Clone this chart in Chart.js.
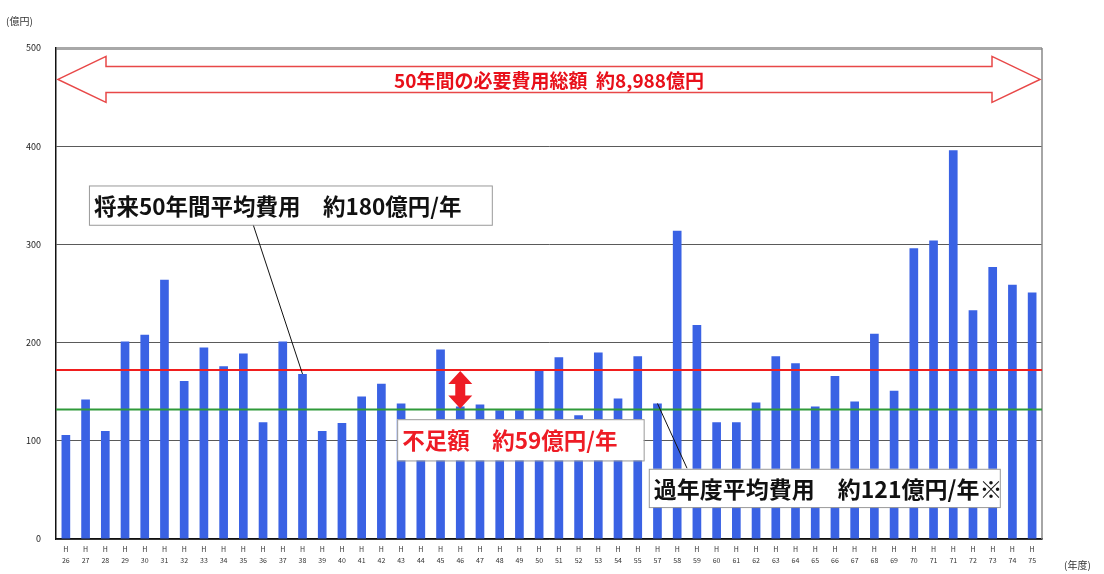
<!DOCTYPE html>
<html>
<head>
<meta charset="utf-8">
<script src="https://cdn.jsdelivr.net/npm/chart.js@4.4.0/dist/chart.umd.min.js"></script>
<style>
  html, body { margin: 0; padding: 0; background: #fff; }
</style>
</head>
<body>
<canvas id="chart" width="1104" height="574"></canvas>
<script>
// years (H = Heisei), as printed under the bars
const years = ['26','27','28','29','30','31','32','33','34','35','36','37','38','39','40','41','42','43','44','45',
  '46','47','48','49','50','51','52','53','54','55','57','58','59','60','61','62','63','64','65','66',
  '67','68','69','70','71','71','72','73','74','75'];
// required cost per year (億円)
const costs = [106,142,110,201,208,264,161,195,176,189,119,201,168,110,118,145,158,138,120,193,
  135,137,131,131,172,185,126,190,143,186,138,314,218,119,119,139,186,179,135,166,
  140,209,151,296,304,396,233,277,259,251];
const yTicks = [0, 100, 200, 300, 400, 500];
const futureAvg = 172;   // red line
const pastAvg = 132;     // green line

const FONT = '"Noto Sans CJK JP", "Noto Sans", sans-serif';

function drawBoxText(ctx, x1, y1, x2, y2, text, color, size) {
  ctx.save();
  ctx.fillStyle = '#fff';
  ctx.fillRect(x1, y1, x2 - x1, y2 - y1);
  ctx.strokeStyle = '#999';
  ctx.lineWidth = 1;
  ctx.strokeRect(x1 + 0.5, y1 + 0.5, x2 - x1, y2 - y1);
  ctx.fillStyle = color;
  ctx.font = 'bold ' + size + 'px ' + FONT;
  ctx.textBaseline = 'middle';
  ctx.textAlign = 'left';
  ctx.fillText(text, x1 + 5, (y1 + y2) / 2 + 1);
  ctx.restore();
}

const annotations = {
  id: 'annotations',
  afterDatasetsDraw(chart) {
    const ctx = chart.ctx;
    const xs = chart.scales.x, ys = chart.scales.y;
    const area = chart.chartArea;
    const px = i => xs.getPixelForValue(i);
    const py = v => ys.getPixelForValue(v);

    // right border of plot
    ctx.save();
    ctx.strokeStyle = '#888';
    ctx.lineWidth = 1.5;
    ctx.beginPath();
    ctx.moveTo(area.right, area.top);
    ctx.lineTo(area.right, area.bottom);
    ctx.stroke();

    // average lines
    ctx.lineWidth = 2;
    ctx.strokeStyle = '#f01e1e';
    ctx.beginPath();
    ctx.moveTo(area.left, py(futureAvg));
    ctx.lineTo(area.right, py(futureAvg));
    ctx.stroke();
    ctx.strokeStyle = '#2f9a3a';
    ctx.beginPath();
    ctx.moveTo(area.left, py(pastAvg));
    ctx.lineTo(area.right, py(pastAvg));
    ctx.stroke();

    // big double arrow (50 years)
    const L = area.left + 2, R = area.right - 2, cy = py(468);
    const H = 23, S = 13, HL = 48;
    ctx.beginPath();
    ctx.moveTo(L, cy);
    ctx.lineTo(L + HL, cy - H);
    ctx.lineTo(L + HL, cy - S);
    ctx.lineTo(R - HL, cy - S);
    ctx.lineTo(R - HL, cy - H);
    ctx.lineTo(R, cy);
    ctx.lineTo(R - HL, cy + H);
    ctx.lineTo(R - HL, cy + S);
    ctx.lineTo(L + HL, cy + S);
    ctx.lineTo(L + HL, cy + H);
    ctx.closePath();
    ctx.fillStyle = '#fff';
    ctx.fill();
    ctx.strokeStyle = '#e84848';
    ctx.lineWidth = 1.5;
    ctx.stroke();
    ctx.fillStyle = '#e8101a';
    ctx.font = 'bold 19px ' + FONT;
    ctx.textAlign = 'center';
    ctx.textBaseline = 'middle';
    ctx.fillText('50年間の必要費用総額  約8,988億円', (L + R) / 2, cy + 1);

    // red shortfall arrow between the two averages
    const ax = px(20), yT = py(futureAvg) + 1, yB = py(pastAvg) - 1;
    const ah = 13, aw = 12, sw = 5;
    ctx.beginPath();
    ctx.moveTo(ax, yT);
    ctx.lineTo(ax + aw, yT + ah);
    ctx.lineTo(ax + sw, yT + ah);
    ctx.lineTo(ax + sw, yB - ah);
    ctx.lineTo(ax + aw, yB - ah);
    ctx.lineTo(ax, yB);
    ctx.lineTo(ax - aw, yB - ah);
    ctx.lineTo(ax - sw, yB - ah);
    ctx.lineTo(ax - sw, yT + ah);
    ctx.lineTo(ax - aw, yT + ah);
    ctx.closePath();
    ctx.fillStyle = '#ee1c25';
    ctx.fill();

    // leader lines
    ctx.strokeStyle = '#111';
    ctx.lineWidth = 1;
    ctx.beginPath();
    ctx.moveTo(px(9.5), py(320));
    ctx.lineTo(px(12), py(costs[12]));
    ctx.stroke();
    ctx.beginPath();
    ctx.moveTo(px(30), py(costs[30]));
    ctx.lineTo(px(31.5), py(72));
    ctx.stroke();
    ctx.restore();

    // text boxes
    drawBoxText(ctx, px(1.17), py(360), px(21.6), py(320), '将来50年間平均費用　約180億円/年', '#111', 22.5);
    drawBoxText(ctx, px(16.8), py(122), px(29.3), py(80), '不足額　約59億円/年', '#ee1c25', 22.5);
    drawBoxText(ctx, px(29.56), py(71.5), px(47.36), py(32.5), '過年度平均費用　約121億円/年※', '#111', 23);

    // unit labels
    ctx.save();
    ctx.fillStyle = '#333';
    ctx.font = '10px ' + FONT;
    ctx.textBaseline = 'middle';
    ctx.textAlign = 'left';
    ctx.fillText('(億円)', 6, 21);
    ctx.fillText('(年度)', 1064, 565);
    ctx.restore();
  }
};

new Chart(document.getElementById('chart'), {
  type: 'bar',
  data: {
    labels: years.map(y => ['H', y]),
    datasets: [{
      data: costs,
      backgroundColor: '#3a62e4',
      borderWidth: 0,
      categoryPercentage: 1,
      barPercentage: 0.44
    }]
  },
  options: {
    responsive: false,
    animation: false,
    layout: { padding: { left: 0, right: 62, top: 48, bottom: 0 } },
    plugins: { legend: { display: false }, tooltip: { enabled: false } },
    scales: {
      x: {
        grid: { display: false, drawTicks: false },
        border: { color: '#111', width: 1.5 },
        ticks: {
          color: '#333',
          font: { size: 7, family: FONT, lineHeight: 1.6 },
          maxRotation: 0,
          autoSkip: false,
          padding: 5
        },
        afterFit(s) { s.height = 35; }
      },
      y: {
        min: yTicks[0],
        max: yTicks[yTicks.length - 1],
        afterBuildTicks(s) { s.ticks = yTicks.map(v => ({ value: v })); },
        grid: {
          drawTicks: false,
          color: c => c.tick && c.tick.value === 500 ? '#a8a8a8' : '#5a5a5a',
          lineWidth: c => c.tick && c.tick.value === 500 ? 3 : 1
        },
        border: { color: '#111', width: 1.5 },
        ticks: { color: '#222', font: { size: 9, family: FONT }, padding: 15 },
        afterFit(s) { s.width = 56; }
      }
    }
  },
  plugins: [annotations]
});
</script>
</body>
</html>
